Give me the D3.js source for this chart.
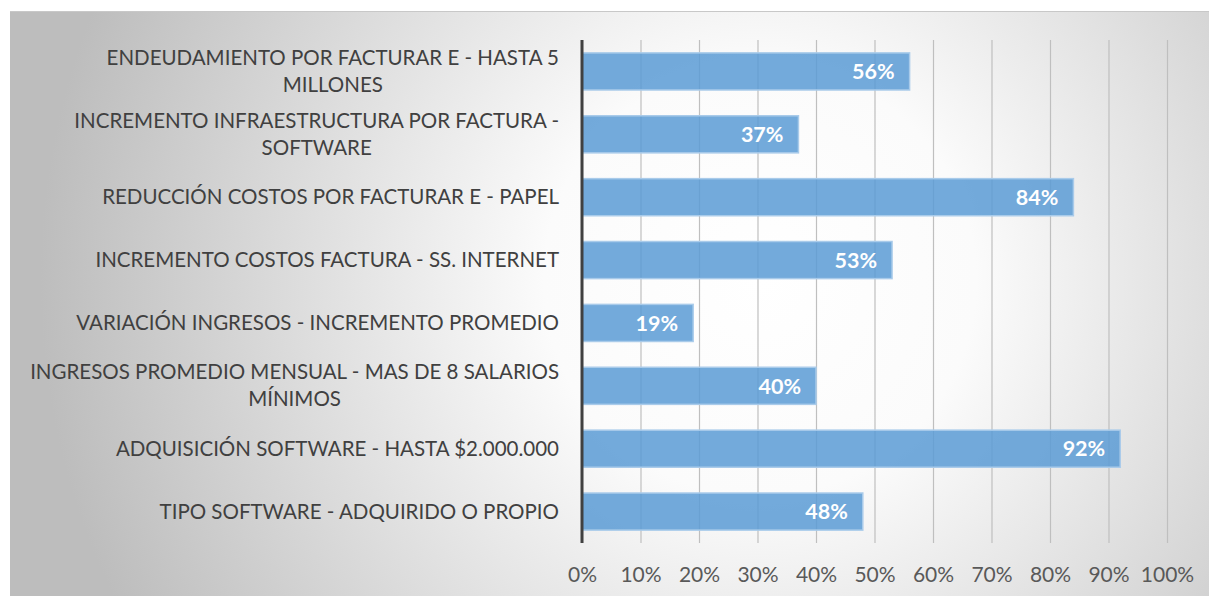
<!DOCTYPE html>
<html><head><meta charset="utf-8">
<script src="https://cdn.jsdelivr.net/npm/d3@7"></script>
<style>html,body{margin:0;padding:0;background:#fff;}svg{display:block;}</style>
</head><body>
<script>
const categories = [
  ["ENDEUDAMIENTO POR FACTURAR E - HASTA 5", "MILLONES"],
  ["INCREMENTO INFRAESTRUCTURA POR FACTURA -", "SOFTWARE"],
  ["REDUCCIÓN COSTOS POR FACTURAR E - PAPEL"],
  ["INCREMENTO COSTOS FACTURA - SS. INTERNET"],
  ["VARIACIÓN INGRESOS - INCREMENTO PROMEDIO"],
  ["INGRESOS PROMEDIO MENSUAL - MAS DE 8 SALARIOS", "MÍNIMOS"],
  ["ADQUISICIÓN SOFTWARE - HASTA $2.000.000"],
  ["TIPO SOFTWARE - ADQUIRIDO O PROPIO"]
];
const values = [0.56, 0.37, 0.84, 0.53, 0.19, 0.40, 0.92, 0.48];
const tickValues = [0, 0.1, 0.2, 0.3, 0.4, 0.5, 0.6, 0.7, 0.8, 0.9, 1.0];

const W = 1209, H = 596;
const svg = d3.select("body").append("svg").attr("width", W).attr("height", H);
const defs = svg.append("defs");
const grad = defs.append("radialGradient").attr("id", "bg")
  .attr("gradientUnits", "userSpaceOnUse")
  .attr("cx", 760).attr("cy", 280).attr("r", 720);
grad.append("stop").attr("offset", "0%").attr("stop-color", "#ffffff");
grad.append("stop").attr("offset", "30%").attr("stop-color", "#fbfbfb");
grad.append("stop").attr("offset", "100%").attr("stop-color", "#bdbdbd");

svg.append("rect").attr("x", 10).attr("y", 11).attr("width", W - 10).attr("height", H - 11)
  .attr("fill", "url(#bg)");
svg.append("line").attr("x1", 10).attr("x2", W).attr("y1", 11.5).attr("y2", 11.5)
  .attr("stroke", "#c8c8c8").attr("stroke-width", 1);

const FONT = "Lato, 'Open Sans', sans-serif";
const x = d3.scaleLinear().domain([0, 1]).range([582, 1167]);
const y = d3.scaleBand().domain(d3.range(categories.length)).range([40, 543]).paddingInner(0.41).paddingOuter(0.205);

// gridlines
const gx = svg.append("g").attr("transform", "translate(0,543)")
  .call(d3.axisBottom(x).tickValues(tickValues).tickSize(-503).tickFormat(d3.format(".0%")));
gx.select(".domain").remove();
gx.selectAll(".tick line").attr("stroke", "#bfbfbf").attr("stroke-width", 1.2);
gx.selectAll(".tick text").attr("y", 39).attr("dy", "0")
  .attr("font-family", FONT).attr("font-size", 21).attr("fill", "#595959");

// bars
svg.append("g").selectAll("rect").data(values).join("rect")
  .attr("x", x(0)).attr("y", (d, i) => y(i))
  .attr("width", d => x(d) - x(0)).attr("height", y.bandwidth())
  .attr("fill", "#5b9bd5").attr("fill-opacity", 0.85)
  .attr("stroke", "#a9cbea").attr("stroke-width", 1.5);

// value labels
svg.append("g").selectAll("text").data(values).join("text")
  .attr("x", d => x(d) - 15).attr("y", (d, i) => y(i) + y.bandwidth() / 2)
  .attr("dy", "0.36em").attr("text-anchor", "end")
  .attr("font-family", FONT).attr("font-weight", "bold")
  .attr("font-size", 21.5).attr("fill", "#ffffff")
  .text(d => d3.format(".0%")(d));

// category labels
const lab = svg.append("g").selectAll("text").data(categories).join("text")
  .attr("font-family", FONT).attr("font-size", 20.5).attr("fill", "#404040")
  .attr("text-anchor", "middle");
lab.each(function (lines, i) {
  const cy = y(i) + y.bandwidth() / 2;
  const lh = 27;
  const t = d3.select(this);
  lines.forEach((ln, k) => {
    const yy = cy + (k - (lines.length - 1) / 2) * lh;
    t.append("tspan").attr("y", yy).attr("dy", "0.35em").text(ln);
  });
});
lab.each(function () {
  const t = d3.select(this);
  const spans = t.selectAll("tspan").nodes();
  const maxW = d3.max(spans, s => s.getComputedTextLength());
  const cx = 559 - maxW / 2;
  t.selectAll("tspan").attr("x", cx);
});

// vertical axis line
svg.append("line").attr("x1", x(0)).attr("x2", x(0)).attr("y1", 40).attr("y2", 543)
  .attr("stroke", "#404040").attr("stroke-width", 3);
</script>
</body></html>
